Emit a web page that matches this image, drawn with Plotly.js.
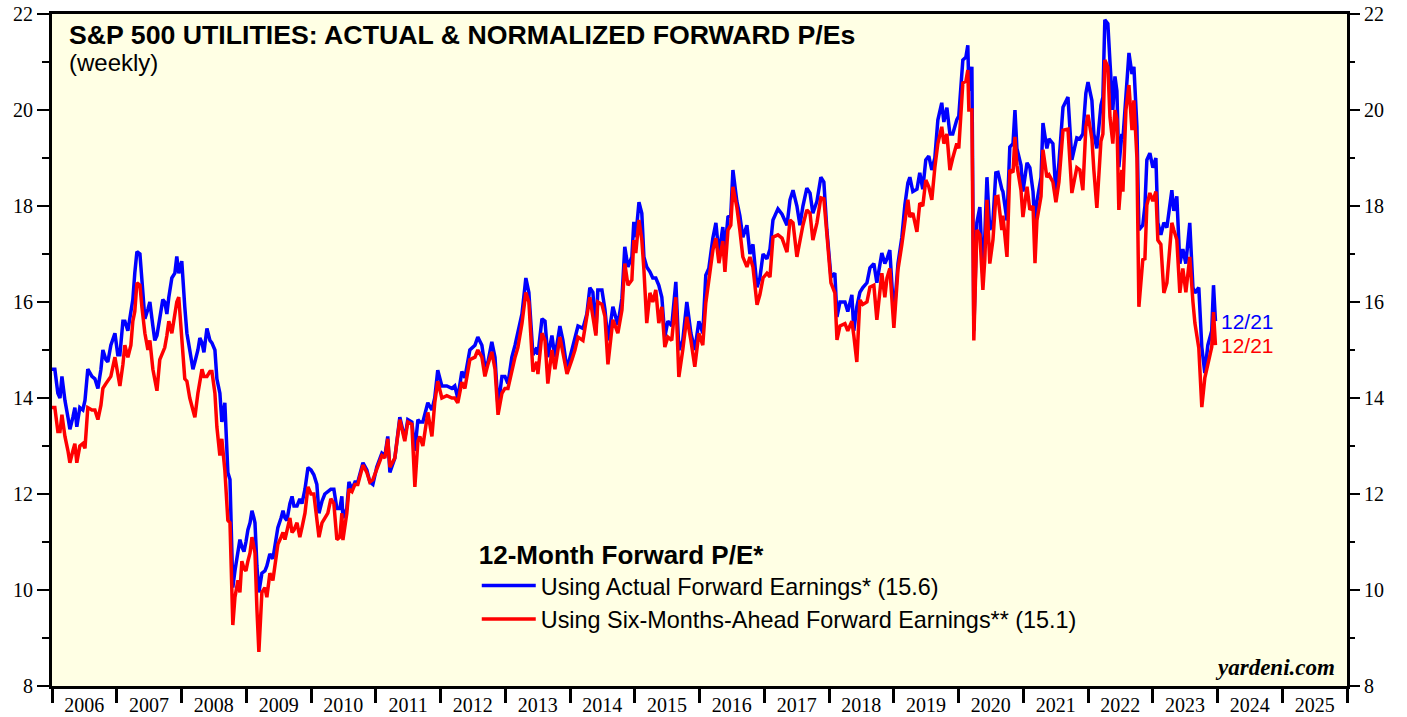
<!DOCTYPE html>
<html>
<head>
<meta charset="utf-8">
<script src="https://cdn.plot.ly/plotly-3.0.1.min.js"></script>
<style>
  html, body { margin: 0; padding: 0; background: #ffffff; }
  #chart { width: 1407px; height: 717px; }
</style>
</head>
<body>
<div id="chart"></div>
<script>
// Week positions as decimal years
const weekYears = [
2006.000,2006.046,2006.093,2006.124,2006.154,2006.201,2006.247,2006.278,2006.324,2006.355,2006.386,2006.432,2006.479,2006.510,2006.556,2006.618,2006.664,2006.710,2006.757,2006.788,2006.834,2006.865,2006.911,2006.973,
2007.019,2007.050,2007.097,2007.127,2007.174,2007.220,2007.251,2007.282,2007.313,2007.359,2007.390,2007.436,2007.483,2007.514,2007.560,2007.591,2007.622,2007.668,2007.714,2007.745,2007.776,2007.807,2007.853,2007.900,2007.931,2007.961,
2008.008,2008.054,2008.085,2008.131,2008.178,2008.208,2008.255,2008.286,2008.317,2008.347,2008.394,2008.440,2008.471,2008.517,2008.548,2008.595,2008.625,2008.672,2008.718,2008.749,2008.780,2008.795,2008.826,2008.857,2008.873,2008.903,2008.934,2008.965,2008.996,
2009.027,2009.058,2009.089,2009.120,2009.135,2009.166,2009.197,2009.243,2009.290,2009.320,2009.367,2009.413,2009.459,2009.490,2009.537,2009.568,2009.598,2009.629,2009.676,2009.707,2009.737,2009.784,2009.830,2009.861,2009.907,2009.954,
2010.000,2010.046,2010.093,2010.124,2010.170,2010.216,2010.263,2010.309,2010.355,2010.402,2010.448,2010.479,2010.494,2010.556,2010.587,2010.633,2010.680,2010.726,2010.803,2010.865,2010.911,2010.958,
2011.019,2011.097,2011.143,2011.189,2011.220,2011.297,2011.375,2011.452,2011.498,2011.560,2011.606,2011.653,2011.683,2011.730,2011.807,2011.869,2011.915,2011.961,
2012.023,2012.100,2012.178,2012.224,2012.270,2012.332,2012.378,2012.456,2012.533,2012.579,2012.641,2012.687,2012.734,2012.795,2012.842,2012.888,2012.950,2012.996,
2013.042,2013.104,2013.151,2013.197,2013.259,2013.320,2013.367,2013.429,2013.490,2013.506,2013.568,2013.614,2013.660,2013.722,2013.768,2013.846,2013.892,2013.954,
2014.031,2014.077,2014.124,2014.201,2014.263,2014.309,2014.355,2014.402,2014.432,2014.494,2014.541,2014.587,2014.664,2014.741,2014.803,2014.849,2014.896,2014.958,2014.988,
2015.019,2015.066,2015.112,2015.143,2015.189,2015.236,2015.282,2015.328,2015.375,2015.421,2015.467,2015.514,2015.575,2015.637,2015.683,2015.745,2015.807,2015.869,2015.931,2015.992,
2016.054,2016.100,2016.147,2016.208,2016.255,2016.301,2016.363,2016.394,2016.440,2016.486,2016.517,2016.579,2016.625,2016.672,2016.734,2016.780,2016.826,2016.888,2016.934,2016.981,
2017.042,2017.089,2017.135,2017.212,2017.274,2017.351,2017.398,2017.444,2017.506,2017.552,2017.598,2017.660,2017.707,2017.753,2017.815,2017.876,2017.923,2017.969,
2018.031,2018.093,2018.124,2018.170,2018.247,2018.293,2018.355,2018.386,2018.432,2018.479,2018.525,2018.587,2018.633,2018.695,2018.741,2018.819,2018.865,2018.896,2018.942,
2019.004,2019.066,2019.127,2019.174,2019.220,2019.251,2019.297,2019.359,2019.405,2019.452,2019.498,2019.544,2019.591,2019.637,2019.683,2019.745,2019.776,2019.822,2019.869,2019.915,2019.977,
2020.008,2020.069,2020.116,2020.147,2020.162,2020.208,2020.239,2020.286,2020.332,2020.378,2020.409,2020.440,2020.486,2020.533,2020.579,2020.610,2020.672,2020.687,2020.749,2020.795,2020.842,2020.873,2020.903,2020.965,2020.996,
2021.058,2021.104,2021.151,2021.181,2021.212,2021.274,2021.305,2021.367,2021.398,2021.459,2021.506,2021.552,2021.614,2021.691,2021.753,2021.830,2021.876,2021.923,2021.969,
2022.000,2022.062,2022.093,2022.139,2022.201,2022.232,2022.263,2022.309,2022.340,2022.386,2022.417,2022.448,2022.479,2022.525,2022.541,2022.587,2022.633,2022.680,2022.710,2022.757,2022.788,2022.849,2022.880,2022.911,2022.958,
2023.004,2023.050,2023.081,2023.127,2023.174,2023.220,2023.297,2023.328,2023.375,2023.421,2023.467,2023.514,2023.575,2023.622,2023.653,2023.714,2023.761,2023.807,2023.853,2023.915,2023.940,2023.970
];

// 12-month forward P/E using actual forward earnings (blue)
const actualPE = [
14.6,14.6,14.1,14.0,14.45,13.95,13.6,13.35,13.6,13.8,13.4,13.8,13.75,13.95,14.6,14.45,14.4,14.2,14.6,15.0,14.8,14.75,15.1,15.35,
14.9,14.9,15.6,15.6,15.4,15.8,16.05,16.6,17.05,17.0,16.5,15.65,15.85,16.0,15.5,15.2,15.3,15.7,16.05,16.0,15.75,16.1,16.5,16.6,16.95,16.6,
16.85,15.9,15.35,15.0,14.6,14.75,15.0,15.25,15.15,14.95,15.45,15.2,15.15,15.0,14.4,14.1,13.5,13.9,12.45,12.3,10.35,10.05,10.4,10.7,10.8,11.05,10.9,10.8,11.0,
11.25,11.4,11.65,11.5,11.4,10.5,9.95,10.35,10.4,10.5,10.75,10.65,11.0,11.3,11.5,11.65,11.5,11.45,11.8,11.95,11.75,11.75,11.9,11.8,12.1,12.55,
12.5,12.4,12.2,11.6,11.85,12.0,12.05,12.1,12.1,11.7,11.7,11.95,11.5,11.7,12.25,12.1,12.25,12.25,12.65,12.5,12.25,12.2,
12.56,12.85,12.8,13.2,12.45,12.75,13.6,13.15,13.55,13.5,12.9,13.55,13.5,13.5,13.9,13.75,14.0,14.58,
14.25,14.25,14.2,14.25,14.0,14.55,14.42,15.0,15.1,15.27,15.1,14.65,14.75,15.17,14.85,13.8,14.45,14.45,
14.3,14.85,15.1,15.35,15.75,16.5,16.2,14.9,15.05,14.9,15.65,15.6,14.85,15.3,14.85,15.5,15.2,14.6,
15.0,15.27,15.5,15.45,15.75,16.3,16.2,15.35,16.25,16.25,15.85,15.2,15.9,15.52,16.08,17.15,16.73,16.94,17.67,
17.35,18.08,17.85,16.94,16.73,16.63,16.5,16.5,16.35,16.1,15.27,15.6,15.5,16.42,15.0,15.2,16.0,15.35,15.0,15.6,
15.35,16.56,16.7,17.33,17.65,17.0,17.56,17.08,17.77,17.81,18.75,18.1,17.8,17.35,17.6,17.0,17.2,16.31,16.5,17.0,
16.9,17.1,17.71,17.94,17.83,17.6,18.13,18.33,18.0,17.6,18.0,18.37,18.27,17.85,18.1,18.6,18.5,17.5,
16.52,16.6,15.69,16.0,16.0,15.8,16.15,15.4,15.9,16.2,16.3,16.4,16.71,16.8,16.4,17.02,16.8,16.9,17.08,
15.69,16.8,17.35,18.02,18.48,18.6,18.3,18.35,18.69,18.35,18.96,19.04,18.75,19.0,19.79,20.15,19.75,20.05,19.5,19.5,19.8,
19.87,21.04,21.1,21.35,20.4,20.9,15.4,17.65,17.98,16.5,17.4,18.6,17.5,17.7,18.69,18.7,18.35,18.3,17.7,19.23,19.3,20.0,19.2,18.85,18.3,
18.9,18.8,18.3,17.5,18.1,18.6,19.73,19.2,19.4,19.3,18.25,18.9,20.06,20.27,18.96,19.42,19.4,19.5,20.35,
20.58,20.2,19.5,19.2,20.1,20.27,21.88,21.8,21.0,20.0,20.7,20.4,18.81,19.5,19.4,20.3,21.19,20.75,20.9,19.65,17.5,17.6,18.0,18.96,19.1,
18.8,19.0,17.65,17.4,17.65,17.55,18.33,17.9,18.2,16.8,17.1,16.8,17.65,16.3,16.19,16.3,15.06,14.52,15.1,15.4,16.35,15.6
];

// 12-month forward P/E using six-months-ahead forward earnings (red)
const normalizedPE = [
13.8,13.8,13.3,13.3,13.65,13.2,12.9,12.65,12.9,13.05,12.65,13.0,13.05,12.95,13.8,13.75,13.75,13.55,13.85,14.2,14.3,14.35,14.45,14.85,
14.5,14.25,14.7,15.1,14.85,15.1,15.6,15.8,16.4,16.35,15.9,15.35,15.0,15.2,14.6,14.4,14.15,14.8,14.95,15.05,15.3,15.6,15.35,15.8,16.0,16.1,
15.35,14.4,14.35,14.0,13.75,13.6,14.1,14.4,14.6,14.45,14.45,14.55,14.55,14.1,13.4,12.8,13.15,12.5,11.45,11.4,10.0,9.27,9.85,10.1,10.2,9.95,10.6,10.45,10.4,
10.6,10.77,11.1,10.9,10.77,9.6,8.71,9.95,10.05,9.85,10.35,10.2,10.6,10.95,11.1,11.2,11.05,11.2,11.5,11.2,11.25,11.4,11.1,11.3,11.6,12.15,
12.0,12.0,11.5,11.1,11.4,11.5,11.6,11.9,11.8,11.05,11.1,11.6,11.04,11.6,12.1,12.05,12.2,12.2,12.6,12.45,12.25,12.3,
12.5,12.8,12.75,13.15,12.56,12.75,13.55,13.1,13.5,13.45,12.15,13.1,13.2,13.0,13.7,13.2,13.9,14.35,
14.0,14.05,14.0,14.0,13.9,14.33,14.2,14.8,14.85,15.0,14.85,14.45,14.7,14.96,14.6,13.65,14.1,14.2,
14.2,14.6,14.85,15.05,15.55,16.2,16.0,14.55,14.75,14.5,15.35,15.2,14.3,15.0,14.6,15.27,14.95,14.5,
14.8,15.0,15.27,15.2,15.7,16.1,15.7,15.3,16.0,15.95,15.7,14.7,15.63,15.35,15.83,16.8,16.35,16.46,17.29,
17.02,17.71,17.3,16.67,15.56,16.19,16.0,16.25,15.56,15.9,15.06,15.27,15.2,16.1,14.44,15.0,15.69,15.2,14.65,15.35,
15.1,15.98,16.4,17.08,17.33,16.81,17.27,16.63,17.5,17.6,18.4,17.98,17.5,16.94,16.73,16.94,16.73,15.94,16.15,16.5,
16.6,16.52,17.35,17.4,17.33,17.04,17.71,17.65,16.94,17.29,17.6,17.92,17.85,17.29,17.65,18.17,18.15,17.42,
16.4,16.19,15.21,15.5,15.55,15.4,15.6,15.3,14.75,16.04,15.95,16.0,16.31,16.35,15.63,16.6,16.1,16.5,16.7,
15.46,16.67,17.2,17.65,18.13,17.77,17.85,17.46,18.06,18.0,18.54,18.4,18.13,18.8,19.3,19.65,19.3,19.5,18.75,19.0,19.3,
19.2,20.56,20.6,20.83,20.0,20.0,15.2,17.5,17.4,16.25,16.9,18.13,16.8,17.3,18.19,18.2,17.5,17.8,16.94,18.75,18.7,19.44,18.85,18.33,17.77,
18.4,17.92,18.0,16.81,17.7,18.2,19.17,18.6,18.65,18.5,18.08,18.5,19.58,19.6,18.27,18.8,18.75,18.33,19.65,
19.9,19.4,18.75,17.96,19.35,19.5,21.04,20.9,19.85,19.3,20.0,19.8,17.92,18.75,18.3,20.0,20.52,19.58,20.2,19.0,15.9,16.88,16.9,18.02,18.27,
18.1,18.3,17.29,17.2,16.19,16.4,17.65,17.5,17.3,16.19,16.7,16.2,16.94,16.0,15.56,15.04,13.81,14.42,14.73,15.06,15.79,15.1
];

const seriesNames = [
  'Using Actual Forward Earnings* (15.6)',
  'Using Six-Months-Ahead Forward Earnings** (15.1)'
];
const lastLabel = '12/21';
const yTickVals = [8, 10, 12, 14, 16, 18, 20, 22];

function yearToDate(y) {
  const yr = Math.floor(y);
  const start = Date.UTC(yr, 0, 1);
  const end = Date.UTC(yr + 1, 0, 1);
  return new Date(start + (y - yr) * (end - start)).toISOString().slice(0, 10);
}
const dates = weekYears.map(yearToDate);
const lastDate = dates[dates.length - 1];

const serif = 'Liberation Serif, Times New Roman, serif';
const sans = 'Liberation Sans, Arial, sans-serif';

const traces = [
  { x: dates, y: actualPE, type: 'scatter', mode: 'lines', name: seriesNames[0],
    line: { color: '#0000ff', width: 3.5 }, hoverinfo: 'x+y' },
  { x: dates, y: normalizedPE, type: 'scatter', mode: 'lines', name: seriesNames[1],
    line: { color: '#ff0000', width: 3.5 }, hoverinfo: 'x+y' },
  { x: [dates[0]], y: [actualPE[0]], yaxis: 'y2', type: 'scatter', mode: 'markers',
    marker: { opacity: 0 }, showlegend: false, hoverinfo: 'skip' }
];

const yCommon = {
  range: [8, 22], tickvals: yTickVals, ticks: 'outside', ticklen: 12, tickwidth: 1.5,
  tickcolor: '#000', showgrid: false, zeroline: false,
  tickfont: { family: serif, size: 20, color: '#000' },
  minor: { dtick: 1, tick0: 8, ticks: 'outside', ticklen: 7, tickwidth: 1.5, tickcolor: '#000', showgrid: false }
};

const layout = {
  width: 1407, height: 717,
  margin: { l: 52, r: 60, t: 14, b: 31 },
  paper_bgcolor: '#ffffff',
  plot_bgcolor: '#ffffe4',
  showlegend: true,
  legend: {
    x: 0.328, y: 0.232, xanchor: 'left', yanchor: 'top',
    bgcolor: 'rgba(0,0,0,0)',
    font: { family: sans, size: 23.4, color: '#000' },
    title: { text: '<b>12-Month Forward P/E*</b>', font: { family: sans, size: 26, color: '#000' }, side: 'top' },
    tracegroupgap: 0, itemwidth: 54
  },
  xaxis: {
    type: 'date', range: ['2006-01-01', '2026-01-01'],
    dtick: 'M12', tick0: '2006-01-01', tickformat: '%Y', ticklabelmode: 'period',
    ticks: 'outside', ticklen: 14, tickwidth: 3, tickcolor: '#000', ticklabelstandoff: -15,
    showline: true, linewidth: 3, linecolor: '#000', mirror: true,
    showgrid: false, zeroline: false,
    tickfont: { family: serif, size: 20, color: '#000' }
  },
  yaxis: Object.assign({}, yCommon, {
    side: 'left', showline: true, linewidth: 3, linecolor: '#000', mirror: true
  }),
  yaxis2: Object.assign({}, yCommon, {
    overlaying: 'y', side: 'right', showline: false, matches: 'y'
  }),
  annotations: [
    { xref: 'paper', yref: 'paper', x: 0.0116, y: 0.994, xanchor: 'left', yanchor: 'top',
      text: '<b>S&P 500 UTILITIES: ACTUAL & NORMALIZED FORWARD P/Es</b>', showarrow: false,
      font: { family: sans, size: 26.7, color: '#000' } },
    { xref: 'paper', yref: 'paper', x: 0.0116, y: 0.951, xanchor: 'left', yanchor: 'top',
      text: '(weekly)', showarrow: false,
      font: { family: sans, size: 24, color: '#000' } },
    { xref: 'paper', yref: 'paper', x: 0.992, y: 0.006, xanchor: 'right', yanchor: 'bottom',
      text: '<b><i>yardeni.com</i></b>', showarrow: false,
      font: { family: serif, size: 23, color: '#000' } },
    { x: lastDate, y: actualPE[actualPE.length - 1], xref: 'x', yref: 'y', xanchor: 'left', yanchor: 'middle',
      xshift: 4, text: lastLabel, showarrow: false, font: { family: sans, size: 21, color: '#0000ff' } },
    { x: lastDate, y: normalizedPE[normalizedPE.length - 1], xref: 'x', yref: 'y', xanchor: 'left', yanchor: 'middle',
      xshift: 4, text: lastLabel, showarrow: false, font: { family: sans, size: 21, color: '#ff0000' } }
  ]
};

Plotly.newPlot('chart', traces, layout, { displayModeBar: false, staticPlot: true });
</script>
</body>
</html>
